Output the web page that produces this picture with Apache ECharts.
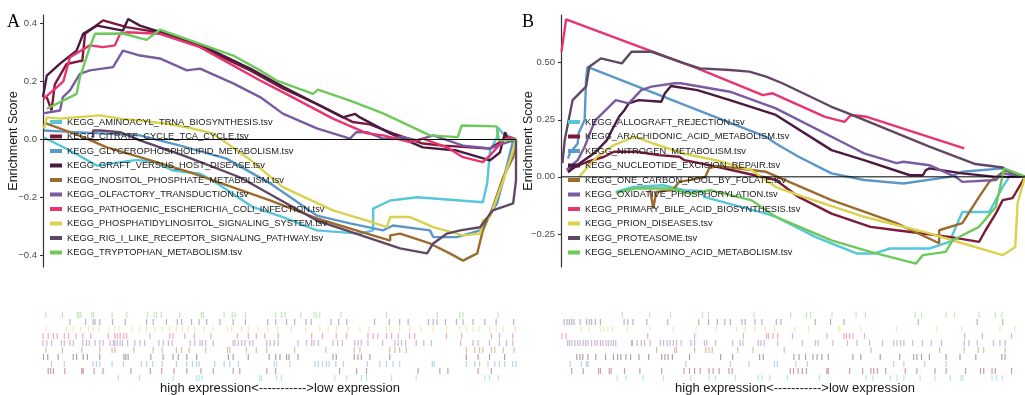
<!DOCTYPE html>
<html><head><meta charset="utf-8">
<script src="https://cdn.jsdelivr.net/npm/echarts@6/dist/echarts.min.js"></script>
<style>html,body{margin:0;padding:0;background:#fff}#c{width:1025px;height:395px}</style>
</head><body><div id="c"></div><script>
// ---------- names & colours ----------
const namesA = ["KEGG_AMINOACYL_TRNA_BIOSYNTHESIS.tsv","KEGG_CITRATE_CYCLE_TCA_CYCLE.tsv","KEGG_GLYCEROPHOSPHOLIPID_METABOLISM.tsv","KEGG_GRAFT_VERSUS_HOST_DISEASE.tsv","KEGG_INOSITOL_PHOSPHATE_METABOLISM.tsv","KEGG_OLFACTORY_TRANSDUCTION.tsv","KEGG_PATHOGENIC_ESCHERICHIA_COLI_INFECTION.tsv","KEGG_PHOSPHATIDYLINOSITOL_SIGNALING_SYSTEM.tsv","KEGG_RIG_I_LIKE_RECEPTOR_SIGNALING_PATHWAY.tsv","KEGG_TRYPTOPHAN_METABOLISM.tsv"];
const namesB = ["KEGG_ALLOGRAFT_REJECTION.tsv","KEGG_ARACHIDONIC_ACID_METABOLISM.tsv","KEGG_NITROGEN_METABOLISM.tsv","KEGG_NUCLEOTIDE_EXCISION_REPAIR.tsv","KEGG_ONE_CARBON_POOL_BY_FOLATE.tsv","KEGG_OXIDATIVE_PHOSPHORYLATION.tsv","KEGG_PRIMARY_BILE_ACID_BIOSYNTHESIS.tsv","KEGG_PRION_DISEASES.tsv","KEGG_PROTEASOME.tsv","KEGG_SELENOAMINO_ACID_METABOLISM.tsv"];
const palette = ["#56C6DA","#7D1A3A","#5B97C8","#4A1A40","#9C6B2E","#7A5BA2","#E8346F","#D9D24E","#604764","#6DC95A"];
const ticksA = [-0.4,-0.2,0,0.2,0.4];
const ticksB = [-0.25,0,0.25,0.5];
const xLabel = "high expression<----------->low expression";

// ---------- panel A running enrichment scores [rank %, ES] ----------
const esA_aminoacyl = [[0.2,0.007],[5.7,-0.038],[11.4,-0.09],[19.8,-0.07],[24.0,-0.078],[27.5,-0.107],[33.2,-0.118],[35.9,-0.141],[44.4,-0.233],[50.7,-0.267],[57.9,-0.313],[67.0,-0.324],[69.8,-0.313],[69.8,-0.238],[73.4,-0.21],[79.1,-0.199],[93.0,-0.216],[93.9,-0.151],[94.5,-0.038],[96.0,0.008],[96.2,0.041],[97.3,0.02],[100,0]];
const esA_citrate = [[0.8,0.146],[1.8,0.1],[2.5,0.19],[5.0,0.26],[7.8,0.27],[8.3,0.27],[8.9,0.364],[12.7,0.41],[17.7,0.387],[24.7,0.368],[33.2,0.32],[43.8,0.238],[50.7,0.176],[58.6,0.117],[65.5,0.06],[69.1,0.052],[74.0,0.021],[80.3,-0.014],[84.6,-0.021],[94.5,-0.031],[98.1,0.007],[100,0]];
const esA_glycero = [[0.2,0.031],[3.6,0.028],[12.1,0.021],[20.5,0.014],[29.0,-0.021],[38.8,-0.066],[48.0,-0.151],[57.9,-0.262],[64.9,-0.289],[71.9,-0.313],[74.0,-0.296],[81.8,-0.313],[82.5,-0.336],[87.5,-0.336],[92.4,-0.313],[96.0,-0.22],[97.3,-0.141],[99.4,-0.003],[100,0]];
const esA_graft = [[0,0.146],[0.8,0.22],[3.6,0.261],[7.1,0.306],[8.5,0.364],[11.4,0.392],[16.9,0.375],[18.0,0.415],[20.5,0.392],[33.2,0.327],[43.8,0.244],[50.7,0.182],[63.4,0.076],[66.0,0.088],[67.0,0.076],[73.4,0.021],[80.3,-0.027],[87.5,-0.038],[94.5,-0.072],[96.6,-0.045],[97.7,0.025],[98.1,0.007],[100,0]];
const esA_inositol = [[0.2,0.052],[0.8,0.055],[8.5,0.008],[13.5,-0.027],[20.5,-0.061],[31.1,-0.113],[48.0,-0.21],[57.9,-0.272],[68.5,-0.324],[73.4,-0.348],[73.4,-0.33],[75.5,-0.324],[81.8,-0.358],[86.0,-0.392],[88.8,-0.417],[91.8,-0.392],[93.0,-0.313],[95.1,-0.233],[97.3,-0.13],[99.4,-0.061],[100,0]];
const esA_olfactory = [[0,0.09],[3.6,0.1],[4.2,0.146],[5.7,0.169],[7.8,0.226],[9.9,0.238],[14.8,0.249],[16.9,0.306],[20.5,0.289],[24.7,0.279],[30.4,0.238],[33.2,0.244],[40.2,0.193],[45.9,0.146],[50.7,0.089],[57.9,0.038],[64.9,0.003],[66.2,0.025],[68.5,0.025],[71.9,0.003],[76.1,0.008],[79.1,-0.003],[82.5,0.014],[88.8,-0.021],[94.5,-0.031],[97.3,-0.014],[100,0]];
const esA_pathogenic = [[0.1,0.14],[3.6,0.19],[4.3,0.2],[5.7,0.283],[9.9,0.324],[12.7,0.318],[15.2,0.324],[16.3,0.364],[17.7,0.369],[24.7,0.364],[33.2,0.318],[45.9,0.203],[50.7,0.163],[61.3,0.072],[68.5,0.021],[71.9,0.014],[77.6,-0.009],[80.3,0.003],[85.4,-0.027],[88.8,-0.061],[93.0,-0.078],[94.5,-0.055],[97.3,-0.003],[98.7,0.008],[100,0]];
const esA_phosph = [[0.2,0.038],[0.8,0.076],[3.6,0.072],[12.1,0.083],[16.3,0.072],[20.5,0.065],[26.2,0.054],[30.4,0.042],[35.9,0.021],[43.8,-0.07],[50.7,-0.164],[61.3,-0.244],[68.5,-0.279],[72.7,-0.302],[73.4,-0.267],[77.6,-0.267],[82.5,-0.302],[88.8,-0.33],[92.4,-0.324],[93.0,-0.279],[94.5,-0.267],[96.0,-0.199],[97.3,-0.141],[99.4,-0.038],[100,0]];
const esA_rig = [[10.6,0.007],[10.6,0.031],[12.1,0.031],[16.3,0.025],[20.5,-0.003],[29.6,-0.055],[41.6,-0.13],[57.9,-0.279],[70.6,-0.348],[75.5,-0.375],[81.2,-0.392],[82.5,-0.358],[85.4,-0.324],[88.2,-0.313],[92.4,-0.302],[95.1,-0.244],[99.4,-0.22],[100,-0.141],[100,0]];
const esA_trypto = [[0.8,0.106],[7.1,0.157],[7.8,0.214],[9.9,0.318],[11.0,0.364],[16.9,0.365],[21.9,0.343],[24.7,0.378],[33.2,0.329],[40.2,0.289],[45.9,0.238],[49.4,0.203],[57.1,0.157],[58.1,0.172],[64.9,0.134],[71.9,0.09],[81.8,0.014],[87.7,0.008],[88.5,0.048],[95.9,0.045],[96.4,-0.003],[100,0]];

// ---------- panel B running enrichment scores ----------
const esB_allograft = [[11.8,-0.066],[15.6,-0.044],[22.0,-0.037],[26.6,-0.058],[30.4,-0.062],[30.8,-0.088],[44.2,-0.161],[46.3,-0.175],[54.8,-0.263],[63.8,-0.336],[67.4,-0.336],[70.9,-0.314],[79.4,-0.314],[83.7,-0.285],[86.5,-0.154],[92.3,-0.154],[95.2,-0.044],[97.3,0.022],[100,0]];
const esB_arach = [[1.5,0.029],[5.7,0.066],[9.3,0.088],[11.4,0.11],[16.3,0.11],[21.0,0.095],[25.5,0.088],[26.6,0.073],[33.6,0.044],[46.3,-0.014],[51.2,-0.088],[58.3,-0.161],[66.7,-0.219],[72.3,-0.234],[83.7,-0.263],[90.1,-0.285],[91.5,-0.234],[93.7,-0.161],[95.2,-0.102],[97.3,-0.093],[97.9,-0.073],[100,0]];
const esB_nitrogen = [[1.5,0.08],[1.9,0.103],[3.6,0.146],[3.8,0.192],[5.1,0.249],[5.4,0.424],[5.7,0.482],[6.5,0.475],[44.2,0.175],[46.3,0.146],[51.2,0.088],[58.3,0.015],[65.3,-0.014],[73.8,-0.029],[83.7,0],[86.5,0.022],[95.2,0.037],[100,0]];
const esB_ner = [[1.5,0.02],[3.0,0.044],[7.2,0.104],[9.9,0.161],[11.0,0.205],[12.5,0.263],[13.7,0.293],[14.6,0.322],[16.7,0.336],[21.6,0.329],[22.4,0.366],[23.7,0.398],[29.4,0.38],[36.4,0.336],[46.3,0.271],[58.3,0.117],[65.3,0.073],[75.2,0.007],[78.0,0.007],[78.6,0.029],[79.4,0.037],[86.5,0.015],[93.7,0],[100,0]];
const esB_onecarbon = [[19.2,-0.058],[19.9,-0.139],[20.5,-0.066],[24.1,-0.058],[25.5,-0.022],[31.1,-0.001],[31.9,0.037],[33.6,0.048],[44.2,0.022],[58.3,-0.102],[72.3,-0.203],[81.5,-0.291],[81.5,-0.234],[86.5,-0.203],[90.1,-0.088],[92.3,-0.022],[95.8,0.029],[100,0]];
const esB_oxidative = [[1.2,0.03],[3.6,0.073],[5.1,0.132],[6.5,0.205],[7.5,0.25],[11.8,0.336],[14.6,0.322],[17.3,0.38],[19.5,0.395],[24.5,0.41],[25.8,0.41],[36.4,0.373],[46.3,0.3],[63.2,0.125],[65.3,0.103],[72.3,0.06],[73.8,0.066],[79.4,0.051],[85.0,0],[86.5,-0.022],[93.7,-0.014],[95.2,0.016],[100,0]];
const esB_primary = [[0.1,0.548],[1.1,0.69],[29.4,0.475],[43.5,0.358],[45.6,0.366],[56.9,0.263],[61.1,0.241],[62.5,0.271],[65.9,0.263],[86.9,0.125]];
const esB_prion = [[4.0,0],[4.4,0.012],[7.8,0.088],[11.4,0.139],[14.9,0.168],[16.0,0.175],[19.9,0.146],[26.8,0.1],[34.0,0.07],[41.0,0.03],[46.3,-0.045],[51.2,-0.08],[65.3,-0.175],[79.4,-0.248],[86.5,-0.291],[95.2,-0.343],[97.9,-0.307],[98.4,-0.115],[100,0]];
const esB_proteasome = [[0.3,0.06],[0.8,0.161],[2.5,0.336],[5.4,0.395],[6.1,0.482],[8.6,0.519],[13.1,0.497],[15.2,0.548],[19.5,0.548],[26.6,0.497],[30.0,0.475],[36.4,0.468],[40.6,0.461],[44.2,0.439],[47.7,0.41],[58.3,0.307],[61.1,0.285],[79.4,0.132],[89.3,0.056],[95.2,0.041],[95.8,0.029],[100,0]];
const esB_seleno = [[11.8,-0.07],[16.3,-0.05],[23.4,-0.051],[27.9,-0.073],[32.1,-0.058],[41.0,-0.102],[46.3,-0.175],[58.3,-0.278],[66.7,-0.329],[76.5,-0.38],[78.0,-0.343],[82.9,-0.329],[84.4,-0.278],[90.1,-0.219],[93.7,-0.132],[95.5,0.037],[100,0]];

// ---------- gene-set hit positions (rank %) ----------
const hitsA_aminoacyl = [15.9,20.4,27.5,32.5,33.0,33.6,45.8,46.2,49.4,50.4,61.7,64.2,67.3,68.4,73.7,78.9,93.4,94.4,96.3];
const hitsA_citrate = [1.1,1.6,2.2,4.6,8.2,8.5,10.8,12.7,18.6,22.7,25.1,27.7,30.4,33.4,36.0,40.2,41.6,47.3,49.2,62.7,66.3,68.4,79.3,83.9,85.6,92.0,94.8];
const hitsA_glycero = [1.8,4.5,10.6,11.3,12.0,14.6,17.0,20.8,21.9,23.2,25.2,28.2,30.4,31.6,32.5,33.0,36.3,38.3,39.5,41.3,48.9,49.4,52.2,57.5,58.2,59.1,59.9,60.5,61.9,63.5,68.6,71.2,72.6,74.0,75.4,82.3,82.7,89.5,91.3,92.3,94.1,95.5,96.5,97.6,99.3,100];
const hitsA_graft = [0.1,1.0,3.2,6.4,7.1,8.5,9.4,12.0,17.1,17.5,18.0,22.8,25.4,27.5,28.6,30.4,32.5,39.2,40.2,43.4,47.8,49.2,50.1,51.5,52.0,53.9,61.3,62.0,65.8,66.6,67.3,69.1,73.3,89.5,92.0,94.4,97.6];
const hitsA_inositol = [0.6,4.1,8.2,12.0,14.6,15.2,19.2,23.3,25.2,28.2,29.3,30.9,34.4,39.0,39.5,43.0,45.1,47.3,53.2,59.8,65.8,67.0,73.3,74.4,75.4,76.8,89.5,91.3,92.3,93.0,94.8,95.5,97.3,99.6];
const hitsA_olfactory = [0,0.8,1.8,3.9,4.5,5.7,6.4,8.4,9.2,9.8,11.0,12.0,12.7,14.2,14.9,15.2,15.7,16.3,16.8,17.9,19.4,20.5,21.5,24.5,25.4,26.5,27.3,31.1,32.1,33.2,33.7,34.4,36.0,40.2,40.6,41.3,42.0,42.7,43.7,44.4,47.3,48.0,48.9,49.7,53.9,55.7,56.8,57.3,58.2,61.3,62.3,63.3,65.9,66.6,67.3,68.7,71.8,74.4,75.1,75.8,76.7,78.9,80.5,82.1,88.3,90.9,92.0,94.4,96.5,98.0,99.3];
const hitsA_pathogenic = [0,1.1,2.2,3.0,4.5,5.4,7.0,8.4,10.1,13.8,15.2,15.7,16.3,17.1,17.7,22.6,26.8,27.5,30.0,32.0,35.5,41.1,43.4,45.1,46.9,49.7,56.8,59.1,62.0,64.2,68.7,69.8,70.8,72.6,73.7,75.1,77.5,78.6,85.3,88.5,94.8,96.5,99.3];
const hitsA_phosph = [0.6,5.0,6.4,8.0,9.6,10.6,11.9,14.0,15.1,16.1,18.9,20.4,21.9,23.7,25.2,26.8,28.2,29.5,30.7,32.0,34.1,36.0,39.0,39.9,42.0,43.4,45.5,47.6,49.6,52.5,55.6,58.5,60.3,62.0,64.5,67.0,68.9,72.6,73.3,75.4,77.5,79.9,82.5,85.3,88.1,89.5,90.9,92.3,94.4,95.8,97.3,99.8];
const hitsA_rig = [5.7,9.0,10.6,11.0,12.0,14.7,17.4,21.9,23.3,26.1,28.4,29.3,31.4,33.0,34.6,37.4,40.2,42.8,47.5,49.2,51.5,53.2,55.6,56.7,60.9,62.5,64.2,70.1,73.2,75.4,77.2,81.5,82.5,83.3,85.1,87.4,88.8,90.9,93.4,95.8,99.5];
const hitsA_trypto = [0.6,4.1,7.3,7.6,8.0,10.3,10.7,14.6,17.7,22.1,23.5,24.0,25.0,28.9,33.5,33.9,38.3,40.0,40.6,42.8,49.2,50.4,51.2,54.5,57.3,57.8,58.5,63.0,72.6,83.4,88.1,88.8,96.2];

const hitsB_allograft = [12.1,14.0,17.7,22.1,28.0,31.9,33.3,37.6,42.5,43.3,45.0,48.8,55.7,65.7,67.2,71.0,72.4,73.9,77.4,80.6,83.9,86.2,86.6,92.9,93.9,95.1];
const hitsB_arach = [2.3,4.8,8.1,8.5,10.4,10.8,13.7,17.0,21.7,26.5,27.7,28.8,30.0,31.9,32.8,34.1,36.2,36.9,49.4,50.1,51.1,52.0,52.9,57.3,57.6,62.2,65.0,66.8,67.4,68.2,70.0,74.2,76.7,80.6,83.0,87.2,90.4,91.1,92.9,93.6,97.1];
const hitsB_nitrogen = [2.0,4.4,5.5,5.8,26.9,36.5,40.5,46.0,46.6,50.6,53.1,71.7,73.9,78.4,83.0];
const hitsB_ner = [3.4,4.1,4.7,5.8,7.5,9.6,11.3,12.2,12.9,14.0,15.0,16.8,18.9,21.7,22.4,23.1,24.0,27.7,34.4,37.0,42.8,43.6,50.2,51.3,52.7,54.3,55.2,56.2,57.6,62.9,64.6,68.8,73.0,76.0,76.7,77.7,79.4,83.0,86.0,89.4,95.0,95.7];
const hitsB_onecarbon = [20.6,24.5,24.9,28.8,31.2,31.9,32.6,38.1,41.4,48.1,66.8,81.6,86.9,89.9,91.1,95.7];
const hitsB_oxidative = [1.4,1.8,2.3,3.0,3.6,4.1,4.8,5.3,5.8,6.6,7.3,7.8,8.5,9.0,9.7,10.2,10.8,11.3,11.8,15.2,15.4,16.4,17.3,18.0,19.2,21.4,22.1,22.9,23.5,24.2,24.9,25.9,28.0,28.8,30.9,31.4,33.3,37.0,38.6,39.2,42.5,43.1,43.8,46.7,52.0,54.8,55.4,58.6,61.7,63.8,66.5,69.3,71.7,72.4,73.2,73.9,75.8,77.9,79.8,82.0,86.9,87.9,89.7,93.2,94.6,95.7];
const hitsB_primary = [0.2,1.1,18.7,28.8,39.3,44.3,44.7,45.7,46.7,49.9,57.3,61.0,61.5,62.2,62.9,65.4,87.0,90.8,97.1];
const hitsB_prion = [4.3,6.0,8.5,9.2,10.1,11.1,14.3,19.2,24.2,29.1,33.5,37.8,39.7,41.8,44.0,46.0,50.4,53.4,59.8,60.1,64.6,72.3,81.0,86.3,94.6,97.8];
const hitsB_proteasome = [0.7,1.3,1.8,2.3,2.8,4.1,5.5,6.1,6.6,7.4,8.5,13.6,14.4,15.5,18.5,23.0,29.7,31.8,33.7,35.3,36.5,39.0,39.7,41.8,43.3,46.4,47.4,54.8,58.1,61.0,77.0,89.7,95.2];
const hitsB_seleno = [13.2,19.1,23.6,30.5,31.8,41.6,49.5,52.9,53.8,58.4,63.6,65.6,76.3,77.7,83.0,84.8,90.1,93.6,95.0];

// ---------- assembly ----------
const curvesA = [esA_aminoacyl,esA_citrate,esA_glycero,esA_graft,esA_inositol,esA_olfactory,esA_pathogenic,esA_phosph,esA_rig,esA_trypto];
const curvesB = [esB_allograft,esB_arach,esB_nitrogen,esB_ner,esB_onecarbon,esB_oxidative,esB_primary,esB_prion,esB_proteasome,esB_seleno];
const hitsA = [hitsA_aminoacyl,hitsA_citrate,hitsA_glycero,hitsA_graft,hitsA_inositol,hitsA_olfactory,hitsA_pathogenic,hitsA_phosph,hitsA_rig,hitsA_trypto];
const hitsB = [hitsB_allograft,hitsB_arach,hitsB_nitrogen,hitsB_ner,hitsB_onecarbon,hitsB_oxidative,hitsB_primary,hitsB_prion,hitsB_proteasome,hitsB_seleno];

const FONT = 'Liberation Sans, Arial, sans-serif';
const fmt = d => v => (v < 0 ? '\u2212' : '') + Math.abs(v).toFixed(d);
const rows = ['0','1','2','3','4','5','6','7','8','9'];

function valueY(grid, min, max, ticks, dec) {
  return {
    type: 'value', gridIndex: grid, min: min, max: max,
    axisLine: {show: true, lineStyle: {color: '#333', width: 1.2}},
    axisTick: {show: true, length: 3, customValues: ticks, lineStyle: {color: '#333', width: 1.1}},
    axisLabel: {customValues: ticks, formatter: fmt(dec), color: '#4d4d4d', fontSize: 9.5, margin: 6, fontFamily: FONT},
    splitLine: {show: false}
  };
}

const series = [];
function addPanel(names, curves, hits, gi, ri) {
  curves.forEach((d, i) => {
    series.push({type: 'line', name: names[i], xAxisIndex: gi, yAxisIndex: gi, data: d,
      showSymbol: false, symbol: 'none', animation: false, silent: true,
      lineStyle: {width: 2.4, color: palette[i]}, itemStyle: {color: palette[i]}});
  });
  series.push({type: 'line', name: 'zero' + gi, xAxisIndex: gi, yAxisIndex: gi, data: [[0,0],[100,0]],
    showSymbol: false, symbol: 'none', animation: false, silent: true,
    lineStyle: {width: 1, color: '#000'}, itemStyle: {color: '#000'}});
  hits.forEach((h, i) => {
    series.push({type: 'scatter', name: 'hits' + ri + '_' + i, xAxisIndex: ri, yAxisIndex: ri,
      data: h.map(x => [x, i]), symbol: 'rect', symbolSize: [1.2, 6], animation: false, silent: true,
      itemStyle: {color: palette[i], opacity: 0.42}});
  });
}
addPanel(namesA, curvesA, hitsA, 0, 2);
addPanel(namesB, curvesB, hitsB, 1, 3);

function legend(names, left) {
  return {data: names, orient: 'vertical', left: left, top: 116, padding: 0,
    itemWidth: 12, itemHeight: 4, itemGap: 2.5, icon: 'rect', selectedMode: false,
    textStyle: {fontSize: 9.3, color: '#1a1a1a', fontFamily: FONT, lineHeight: 12}};
}

const txt = (x, y, text, size, extra) => Object.assign({type: 'text', x: x, y: y, silent: true,
  style: {text: text, fontSize: size, fontFamily: FONT, fill: '#1a1a1a', textAlign: 'center', textVerticalAlign: 'middle'}}, extra || {});

const option = {
  animation: false,
  grid: [
    {left: 43, top: 15, width: 473, height: 252},
    {left: 561, top: 15, width: 473, height: 252},
    {left: 43, top: 311.5, width: 473, height: 70},
    {left: 561, top: 311.5, width: 473, height: 70}
  ],
  xAxis: [0,1,2,3].map(g => ({type: 'value', gridIndex: g, min: 0, max: 100, show: false})),
  yAxis: [
    valueY(0, -0.439, 0.4286, ticksA, 1),
    valueY(1, -0.395, 0.709, ticksB, 2),
    {type: 'category', gridIndex: 2, data: rows, show: false},
    {type: 'category', gridIndex: 3, data: rows, show: false}
  ],
  legend: [legend(namesA, 50), legend(namesB, 568)],
  graphic: [
    {type: 'text', x: 13.5, y: 22, silent: true, style: {text: 'A', fontSize: 18, fontFamily: 'Liberation Serif, Times New Roman, serif', fill: '#000', textAlign: 'center', textVerticalAlign: 'middle'}},
    {type: 'text', x: 528, y: 22, silent: true, style: {text: 'B', fontSize: 18, fontFamily: 'Liberation Serif, Times New Roman, serif', fill: '#000', textAlign: 'center', textVerticalAlign: 'middle'}},
    txt(13.5, 141, 'Enrichment Score', 12.5, {rotation: Math.PI / 2}),
    txt(528.5, 141, 'Enrichment Score', 12.5, {rotation: Math.PI / 2}),
    txt(280, 388, xLabel, 13),
    txt(795, 388, xLabel, 13)
  ],
  series: series
};
const chart = echarts.init(document.getElementById('c'), null, {renderer: 'canvas'});
chart.setOption(option);
</script></body></html>
